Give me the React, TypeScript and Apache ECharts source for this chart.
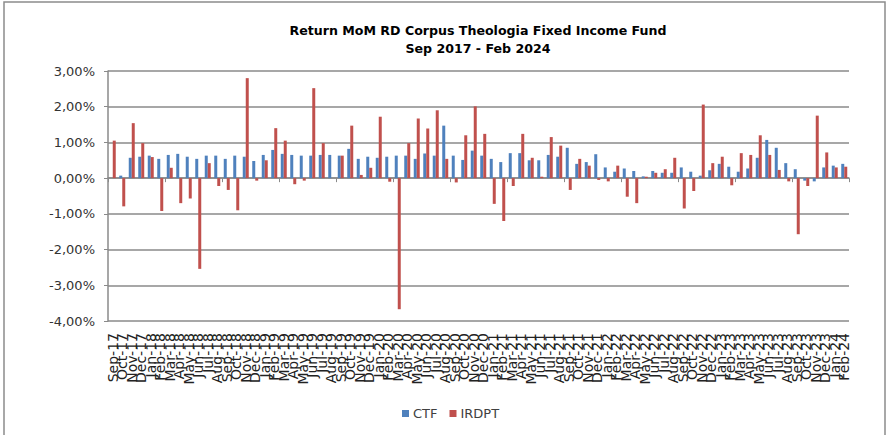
import React, { useEffect, useRef } from "react";
import * as echarts from "echarts";

const titleLines = ["Return MoM RD Corpus Theologia Fixed Income Fund", "Sep 2017 - Feb 2024"];

const months = [
  "Sep-17", "Oct-17", "Nov-17", "Dec-17",
  "Jan-18", "Feb-18", "Mar-18", "Apr-18", "May-18", "Jun-18", "Jul-18", "Aug-18", "Sep-18", "Oct-18", "Nov-18", "Dec-18",
  "Jan-19", "Feb-19", "Mar-19", "Apr-19", "May-19", "Jun-19", "Jul-19", "Aug-19", "Sep-19", "Oct-19", "Nov-19", "Dec-19",
  "Jan-20", "Feb-20", "Mar-20", "Apr-20", "May-20", "Jun-20", "Jul-20", "Aug-20", "Sep-20", "Oct-20", "Nov-20", "Dec-20",
  "Jan-21", "Feb-21", "Mar-21", "Apr-21", "May-21", "Jun-21", "Jul-21", "Aug-21", "Sep-21", "Oct-21", "Nov-21", "Dec-21",
  "Jan-22", "Feb-22", "Mar-22", "Apr-22", "May-22", "Jun-22", "Jul-22", "Aug-22", "Sep-22", "Oct-22", "Nov-22", "Dec-22",
  "Jan-23", "Feb-23", "Mar-23", "Apr-23", "May-23", "Jun-23", "Jul-23", "Aug-23", "Sep-23", "Oct-23", "Nov-23", "Dec-23",
  "Jan-24", "Feb-24",
];

// Monthly returns in percent
const ctf = [
  0.0, 0.07, 0.57, 0.6,
  0.63, 0.54, 0.65, 0.68, 0.6, 0.54, 0.63, 0.63, 0.54, 0.63, 0.6, 0.48,
  0.65, 0.79, 0.68, 0.65, 0.63, 0.63, 0.65, 0.65, 0.63, 0.82, 0.54, 0.6,
  0.57, 0.6, 0.63, 0.63, 0.54, 0.69, 0.63, 1.47, 0.63, 0.51, 0.77, 0.63,
  0.54, 0.45, 0.7, 0.7, 0.5, 0.5, 0.65, 0.6, 0.85, 0.4, 0.45, 0.67,
  0.3, 0.18, 0.27, 0.2, 0.05, 0.2, 0.15, 0.15, 0.3, 0.18, 0.07, 0.22,
  0.4, 0.32, 0.18, 0.27, 0.57, 1.07, 0.85, 0.42, 0.25, -0.07, -0.09, 0.3,
  0.35, 0.4,
];

const irdpt = [
  1.05, -0.79, 1.54, 0.98,
  0.59, -0.92, 0.29, -0.7, -0.57, -2.54, 0.42, -0.22, -0.33, -0.9, 2.8, -0.07,
  0.5, 1.4, 1.05, -0.17, -0.07, 2.52, 0.98, 0.0, 0.63, 1.47, 0.09, 0.29,
  1.72, -0.1, -3.67, 0.98, 1.67, 1.39, 1.9, 0.54, -0.12, 1.2, 2.01, 1.24,
  -0.72, -1.2, -0.22, 1.24, 0.57, 0.04, 1.15, 0.91, -0.33, 0.54, 0.35, -0.05,
  -0.09, 0.35, -0.52, -0.7, 0.04, 0.15, 0.25, 0.57, -0.85, -0.36, 2.06, 0.42,
  0.6, -0.2, 0.7, 0.65, 1.2, 0.65, 0.23, -0.09, -1.57, -0.22, 1.75, 0.72,
  0.3, 0.32,
];

const seriesNames = ["CTF", "IRDPT"];
const colors = ["#4F81BD", "#C0504D"];

export default function App() {
  const ref = useRef<HTMLDivElement>(null);
  useEffect(() => {
    if (!ref.current) return;
    const chart = echarts.init(ref.current, undefined, { renderer: "svg" });
    const gray = "#8a8a8a";
    chart.setOption({
      animation: false,
      backgroundColor: "#ffffff",
      graphic: [
        {
          type: "rect",
          shape: { x: 4, y: 2, width: 881, height: 450 },
          style: { fill: "none", stroke: "#8c8c8c", lineWidth: 1.5 },
          silent: true,
        },
      ],
      title: {
        text: titleLines.join("\n"),
        left: 473,
        top: 16,
        textAlign: "center",
        textStyle: {
          fontFamily: "DejaVu Sans",
          fontWeight: "bold",
          fontSize: 12.6,
          lineHeight: 18,
          color: "#000",
          align: "center",
        },
      },
      legend: {
        data: seriesNames,
        left: 397,
        top: 402,
        itemWidth: 7,
        itemHeight: 7,
        itemGap: 12,
        icon: "rect",
        textStyle: { fontFamily: "DejaVu Sans", fontSize: 13, color: "#404040", padding: [0, 0, 0, -1] },
      },
      grid: { left: 108, right: 39, top: 71, bottom: 114, containLabel: false },
      xAxis: [
        {
          type: "category",
          data: months,
          axisLine: { onZero: true, lineStyle: { color: gray, width: 1.5 } },
          axisTick: { show: true, length: 4, alignWithLabel: false, lineStyle: { color: gray } },
          axisLabel: { show: false },
          splitLine: { show: false },
        },
        {
          type: "category",
          data: months,
          position: "bottom",
          axisLine: { show: false, onZero: false },
          axisTick: { show: false },
          axisLabel: {
            show: true,
            rotate: 90,
            interval: 0,
            margin: 12,
            fontFamily: "DejaVu Sans",
            fontSize: 14,
            color: "#222",
          },
          splitLine: { show: false },
        },
      ],
      yAxis: {
        type: "value",
        min: -4,
        max: 3,
        interval: 1,
        axisLine: { show: true, lineStyle: { color: gray, width: 1.5 } },
        axisTick: { show: true, length: 4, lineStyle: { color: gray } },
        axisLabel: {
          margin: 13,
          fontFamily: "DejaVu Sans",
          fontSize: 13,
          color: "#333",
          formatter: (v: number) => v.toFixed(2).replace(".", ",") + "%",
        },
        splitLine: { show: true, lineStyle: { color: gray, width: 1.5 } },
      },
      series: [
        {
          name: seriesNames[0],
          type: "bar",
          xAxisIndex: 0,
          data: ctf,
          barWidth: 3,
          barGap: "0%",
          itemStyle: { color: colors[0] },
        },
        {
          name: seriesNames[1],
          type: "bar",
          xAxisIndex: 0,
          data: irdpt,
          barWidth: 3,
          barGap: "0%",
          itemStyle: { color: colors[1] },
        },
      ],
    });
    return () => chart.dispose();
  }, []);
  return (
    <div
      ref={ref}
      style={{ position: "fixed", left: 0, top: 0, width: 888, height: 435, background: "#fff" }}
    />
  );
}
